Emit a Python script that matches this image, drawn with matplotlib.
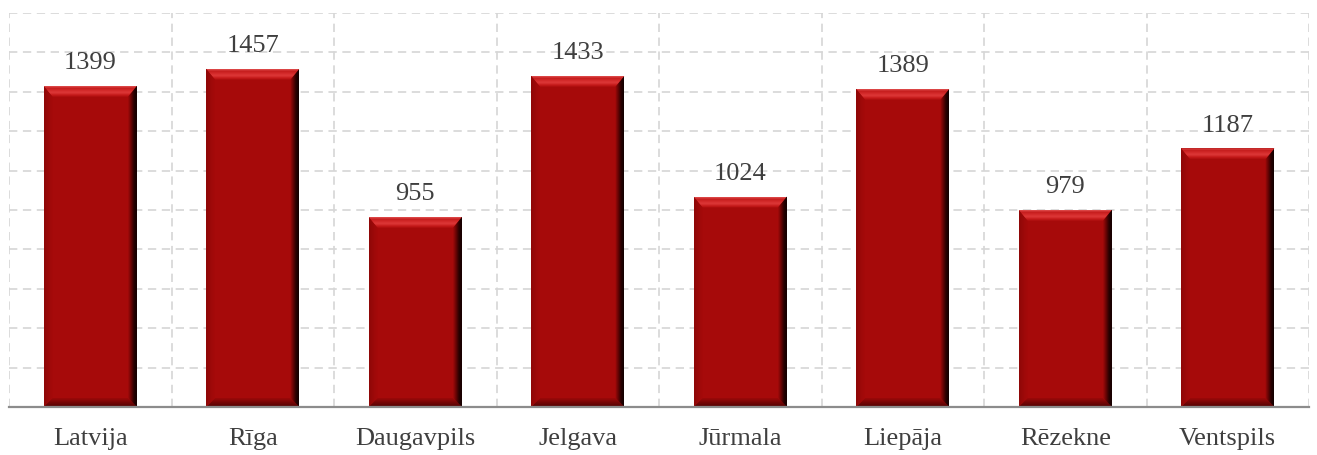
import matplotlib
matplotlib.use("Agg")
import matplotlib.pyplot as plt
import numpy as np
from matplotlib.patches import Polygon
from matplotlib.colors import LinearSegmentedColormap

categories = ['Latvija', 'Rīga', 'Daugavpils', 'Jelgava', 'Jūrmala', 'Liepāja', 'Rēzekne', 'Ventspils']
values = [1399, 1457, 955, 1433, 1024, 1389, 979, 1187]

plt.rcParams['font.family'] = ['Liberation Serif', 'DejaVu Serif']
plt.rcParams['lines.scale_dashes'] = False

W, H = 1317, 455
fig = plt.figure(figsize=(W / 100, H / 100), dpi=100)
ax_l, ax_r, ax_b, ax_t = 9, 1309, 48, 442
ax = fig.add_axes([ax_l / W, ax_b / H, (ax_r - ax_l) / W, (ax_t - ax_b) / H])

ymin, ymax = 311, 1646
n = len(categories)
x = np.arange(n)
width = 0.575
base_color = '#a60a0a'

ax.bar(x, np.array(values) - ymin, bottom=ymin, width=width, color=base_color, zorder=2, linewidth=0)
ax.set_xlim(-0.5, n - 0.5)
ax.set_ylim(ymin, ymax)

# bevel sizes in data units
px_x = (ax_r - ax_l) / n
px_y = (ax_t - ax_b) / (ymax - ymin)
bx = 9 / px_x
by_top = 11 / px_y
by_bot = 9 / px_y


def grad_fill(poly_pts, colors, direction, zorder=3):
    poly = Polygon(poly_pts, closed=True, transform=ax.transData, fill=False, lw=0)
    ax.add_patch(poly)
    cmap = LinearSegmentedColormap.from_list('g', colors)
    xs = [p[0] for p in poly_pts]
    ys = [p[1] for p in poly_pts]
    if direction == 'h':
        arr = np.linspace(0, 1, 64).reshape(1, -1)
    else:
        arr = np.linspace(1, 0, 64).reshape(-1, 1)
    im = ax.imshow(arr, cmap=cmap, extent=[min(xs), max(xs), min(ys), max(ys)],
                   aspect='auto', origin='upper', zorder=zorder, interpolation='bilinear')
    im.set_clip_path(poly)


for xi, v in zip(x, values):
    x0, x1 = xi - width / 2, xi + width / 2
    top, bot = v, ymin
    # top bevel (vertical gradient: bottom -> top)
    grad_fill([(x0, top), (x1, top), (x1 - bx, top - by_top), (x0 + bx, top - by_top)],
              ['#ac0e0e', '#c81c1c', '#dc3838', '#d42a2a', '#c41c1c', '#e25050'], 'v')
    # bottom bevel
    grad_fill([(x0, bot), (x1, bot), (x1 - bx, bot + by_bot), (x0 + bx, bot + by_bot)],
              ['#500303', '#760606', '#9c0909'], 'v')
    # left bevel (horizontal gradient: left -> right)
    grad_fill([(x0, top), (x0 + bx, top - by_top), (x0 + bx, bot + by_bot), (x0, bot)],
              ['#8e0707', '#9c0909', '#a60a0a'], 'h')
    # right bevel
    grad_fill([(x1 - bx, top - by_top), (x1, top), (x1, bot), (x1 - bx, bot + by_bot)],
              ['#a20a0a', '#6a0404', '#2a0101', '#100000'], 'h')
    ax.annotate(f'{v}', (xi, v), xytext=(0, 12), textcoords='offset points',
                ha='center', va='baseline', fontsize=19, color='#3f3f3f')

ax.set_xlim(-0.5, n - 0.5)
ax.set_ylim(ymin, ymax)

ax.set_yticks(np.linspace(ymin, ymax, 11))
ax.set_yticklabels([])
ax.tick_params(axis='y', length=0)
ax.yaxis.grid(True, linestyle=(0, (6, 4)), color='#d6d6d6', linewidth=1.2, zorder=0)

ax.set_xticks(x)
ax.set_xticklabels(categories, fontsize=19, color='#3f3f3f')
ax.set_xticks(np.arange(-0.5, n, 1.0), minor=True)
ax.tick_params(axis='x', which='both', length=0, pad=15)
ax.xaxis.grid(True, which='minor', linestyle=(0, (6, 4)), color='#d6d6d6', linewidth=1.2, zorder=0)
ax.xaxis.grid(False, which='major')
ax.set_axisbelow(True)

for s in ['top', 'left', 'right']:
    ax.spines[s].set_visible(False)
ax.spines['bottom'].set_color('#8c8c8c')
ax.spines['bottom'].set_linewidth(1.6)
ax.spines['bottom'].set_zorder(5)

fig.savefig('out.png', dpi=100)
